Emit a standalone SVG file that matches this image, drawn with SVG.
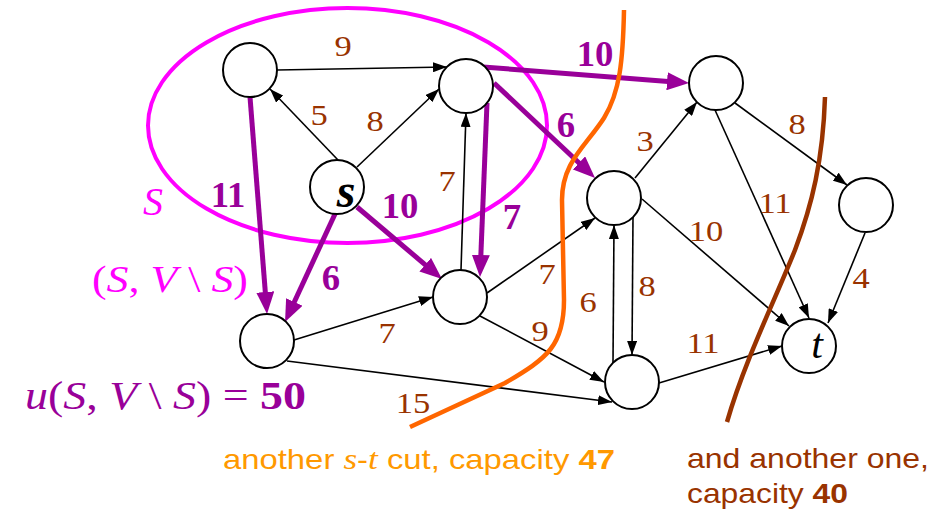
<svg xmlns="http://www.w3.org/2000/svg" width="946" height="512" viewBox="0 0 946 512">
<style>
.node{fill:#fff;stroke:#000;stroke-width:2}
.thin{stroke:#000;stroke-width:1.6;fill:none;marker-end:url(#ah)}
.thick{stroke:#990099;stroke-width:5;fill:none;marker-end:url(#ahp)}
.lab{font-family:"Liberation Serif","Times New Roman",serif;font-size:30px;fill:#993300;text-anchor:middle}
.plab{font-family:"Liberation Serif","Times New Roman",serif;font-size:35px;font-weight:bold;fill:#990099;text-anchor:middle}
.it{font-style:italic}
.b{font-weight:bold}
</style>
<defs>
<marker id="ah" markerUnits="userSpaceOnUse" markerWidth="14" markerHeight="10" refX="14" refY="5" orient="auto"><path d="M0,0 L14,5 L0,10 z" fill="#000"/></marker>
<marker id="ahp" markerUnits="userSpaceOnUse" markerWidth="22" markerHeight="18" refX="14" refY="9" orient="auto"><path d="M0,0 L22,9 L0,18 z" fill="#990099"/></marker>
</defs>
<rect width="946" height="512" fill="#fff"/>
<ellipse id="set-S" cx="347.5" cy="125.5" rx="199.5" ry="117.5" fill="none" stroke="#FF00FF" stroke-width="4"/>
<g id="connectors">
<path class="thin" d="M277,70 L447,67"/>
<path class="thin" d="M338,160 L270,89"/>
<path class="thin" d="M357,167 L439,89"/>
<path class="thin" d="M461,270 L466,113"/>
<path class="thin" d="M635,178 L697,102"/>
<path class="thin" d="M735,103 L847,185"/>
<path class="thin" d="M715,110 L809,318"/>
<path class="thin" d="M642,199 L789,326"/>
<path class="thin" d="M865,233 L828,323"/>
<path class="thin" d="M487,293 L595,218"/>
<path class="thin" d="M480,316 L604,382"/>
<path class="thin" d="M294,340 L433,297"/>
<path class="thin" d="M287,361 L612,402"/>
<path class="thin" d="M613,363 L614,225"/>
<path class="thin" d="M633,217 L632,355"/>
<path class="thin" d="M659,383 L782,346"/>
<path class="thick" d="M250,97 L266.4,306"/>
<path class="thick" d="M335,214 L288.4,314.7"/>
<path class="thick" d="M357,207 L435.9,273.8"/>
<path class="thick" d="M487,103 L480.3,269"/>
<path class="thick" d="M483,67 L681,82.4"/>
<path class="thick" d="M494,83 L589.2,172.5"/>
</g>
<g id="node-A"><circle class="node" cx="250" cy="70" r="27"/></g>
<g id="node-B"><circle class="node" cx="466" cy="86" r="27"/></g>
<g id="node-s"><circle class="node" cx="337" cy="187" r="27"/><text x="346" y="207" font-family="Liberation Serif, serif" font-size="48" font-style="italic" font-weight="bold" text-anchor="middle">s</text></g>
<g id="node-C"><circle class="node" cx="716" cy="83" r="27"/></g>
<g id="node-D"><circle class="node" cx="614" cy="198" r="27"/></g>
<g id="node-E"><circle class="node" cx="866" cy="205" r="27"/></g>
<g id="node-F"><circle class="node" cx="267" cy="341" r="27"/></g>
<g id="node-G"><circle class="node" cx="460" cy="297" r="27"/></g>
<g id="node-H"><circle class="node" cx="632" cy="382" r="27"/></g>
<g id="node-t"><circle class="node" cx="809" cy="346" r="27"/><text x="817" y="358" font-family="Liberation Serif, serif" font-size="42" font-style="italic" text-anchor="middle">t</text></g>
<path id="cut-orange" d="M624,10 C623,60 620,92 604,118 C586,146 562,162 562,200 L564,300 C564,345 548,358 505,383 L410,427" fill="none" stroke="#FF6600" stroke-width="4.5"/>
<path id="cut-brown" d="M825,97 C823,160 812,205 795,250 C775,300 745,360 727,422" fill="none" stroke="#993300" stroke-width="4.5"/>
<g id="labels">
<text class="lab" transform="translate(343,56) scale(1.15,1)">9</text>
<text class="lab" transform="translate(319,125) scale(1.15,1)">5</text>
<text class="lab" transform="translate(375,131) scale(1.15,1)">8</text>
<text class="lab" transform="translate(447,191) scale(1.15,1)">7</text>
<text class="lab" transform="translate(797,134) scale(1.15,1)">8</text>
<text class="lab" transform="translate(645,151) scale(1.15,1)">3</text>
<text class="lab" transform="translate(775,213) scale(1.15,1)">11</text>
<text class="lab" transform="translate(706,241) scale(1.15,1)">10</text>
<text class="lab" transform="translate(547,284) scale(1.15,1)">7</text>
<text class="lab" transform="translate(540,341) scale(1.15,1)">9</text>
<text class="lab" transform="translate(588,312) scale(1.15,1)">6</text>
<text class="lab" transform="translate(647,296) scale(1.15,1)">8</text>
<text class="lab" transform="translate(703,353) scale(1.15,1)">11</text>
<text class="lab" transform="translate(861,288) scale(1.15,1)">4</text>
<text class="lab" transform="translate(387,343) scale(1.15,1)">7</text>
<text class="lab" transform="translate(413,413) scale(1.15,1)">15</text>
<text class="plab" transform="translate(228,207) scale(1.05,1)">11</text>
<text class="plab" transform="translate(400,218) scale(1.05,1)">10</text>
<text class="plab" transform="translate(512,229) scale(1.05,1)">7</text>
<text class="plab" transform="translate(331,290) scale(1.05,1)">6</text>
<text class="plab" transform="translate(566,137) scale(1.05,1)">6</text>
<text class="plab" transform="translate(595,66) scale(1.05,1)">10</text>
<text x="143" y="215" font-family="Liberation Serif, serif" font-size="40" font-style="italic" fill="#FF00FF">S</text>
<text x="92" y="292" font-family="Liberation Serif, serif" font-size="37" fill="#FF00FF" textLength="156" lengthAdjust="spacingAndGlyphs">(<tspan class="it">S</tspan>, <tspan class="it">V</tspan> \ <tspan class="it">S</tspan>)</text>
<text x="25" y="409" font-family="Liberation Serif, serif" font-size="40" fill="#990099" textLength="281" lengthAdjust="spacingAndGlyphs"><tspan class="it">u</tspan>(<tspan class="it">S</tspan>, <tspan class="it">V</tspan> \ <tspan class="it">S</tspan>) = <tspan class="b">50</tspan></text>
<text x="223" y="469" font-family="Liberation Sans, Arial, sans-serif" font-size="28" fill="#FF9900" textLength="392" lengthAdjust="spacingAndGlyphs">another <tspan font-family="Liberation Serif, serif" font-style="italic" font-size="30">s</tspan>-<tspan font-family="Liberation Serif, serif" font-style="italic" font-size="30">t</tspan> cut, capacity <tspan class="b">47</tspan></text>
<text x="687" y="468" font-family="Liberation Sans, Arial, sans-serif" font-size="28" fill="#993300" textLength="242" lengthAdjust="spacingAndGlyphs">and another one,</text>
<text x="687" y="503" font-family="Liberation Sans, Arial, sans-serif" font-size="28" fill="#993300" textLength="161" lengthAdjust="spacingAndGlyphs">capacity <tspan class="b">40</tspan></text>
</g>
</svg>
